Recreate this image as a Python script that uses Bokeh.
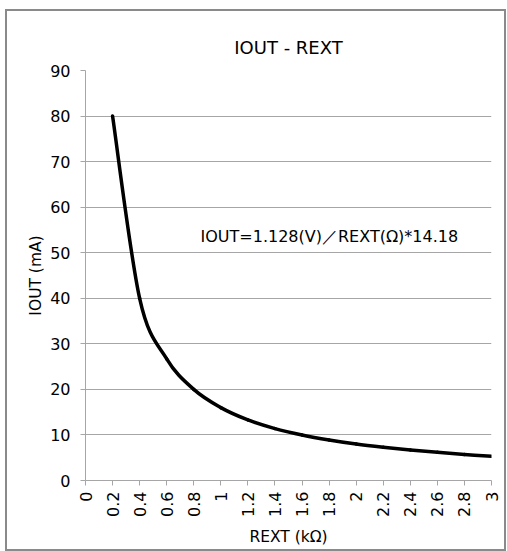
import math
from bokeh.plotting import figure
from bokeh.models import FixedTicker, Label, Title, Range1d
from bokeh.embed import file_html
from bokeh.resources import INLINE

# ---- data ----
rext_kohm = [0.2, 0.4, 0.6, 0.8, 1.0, 1.2, 1.4, 1.6, 1.8, 2.0, 2.2, 2.4, 2.6, 2.8, 3.0]
iout_ma = [80.0, 40.0, 26.7, 20.0, 16.0, 13.3, 11.4, 10.0, 8.9, 8.0, 7.3, 6.7, 6.2, 5.7, 5.3]
x_ticks = [0, 0.2, 0.4, 0.6, 0.8, 1, 1.2, 1.4, 1.6, 1.8, 2, 2.2, 2.4, 2.6, 2.8, 3]
x_tick_labels = ["0", "0.2", "0.4", "0.6", "0.8", "1", "1.2", "1.4", "1.6", "1.8",
                 "2", "2.2", "2.4", "2.6", "2.8", "3"]
y_ticks = [0, 10, 20, 30, 40, 50, 60, 70, 80, 90]

title_text = "IOUT - REXT"
x_label = "REXT (kΩ)"
y_label = "IOUT (mA)"
formula_text = "IOUT=1.128(V)／REXT(Ω)*14.18"

FONT = "DejaVu Sans"
GRID = "#a6a6a6"

p = figure(width=497, height=538, output_backend="svg", toolbar_location=None,
           x_range=Range1d(0, 3), y_range=Range1d(0, 90),
           min_border_left=78, min_border_right=13, min_border_top=59, min_border_bottom=69)
p.margin = (11, 0, 0, 7)
p.styles = {"outline": "2px solid #8a8a8a"}
p.outline_line_color = None
p.background_fill_color = "white"
p.border_fill_color = "white"

t = Title(text=title_text, align="center", text_font=FONT, text_font_size="18px",
          text_font_style="normal", text_color="black", standoff=26)
p.title = t

# axes
p.xaxis.ticker = FixedTicker(ticks=x_ticks)
p.xaxis.major_label_overrides = {tk: lb for tk, lb in zip(x_ticks, x_tick_labels)}
p.xaxis.major_label_orientation = math.pi / 2
p.yaxis.ticker = FixedTicker(ticks=y_ticks)
for ax in (p.xaxis, p.yaxis):
    ax.axis_line_color = GRID
    ax.major_tick_line_color = GRID
    ax.major_tick_out = 5
    ax.major_tick_in = 0
    ax.minor_tick_line_color = None
    ax.major_label_text_font = FONT
    ax.major_label_text_font_size = "16px"
    ax.major_label_text_color = "black"
    ax.axis_label_text_font = FONT
    ax.axis_label_text_font_size = "15.5px"
    ax.axis_label_text_font_style = "normal"
    ax.axis_label_text_color = "black"
p.xaxis.axis_label = x_label
p.yaxis.axis_label = y_label
p.xaxis.major_label_standoff = 6
p.yaxis.major_label_standoff = 10
p.yaxis.axis_label_standoff = 2
p.xaxis.axis_label_standoff = 8

p.xgrid.grid_line_color = None
p.ygrid.grid_line_color = GRID
p.ygrid.grid_line_width = 1

# smoothed curve (Bezier segments through the data points)
n = len(rext_kohm)
x0s, y0s, x1s, y1s, cx0s, cy0s, cx1s, cy1s = [], [], [], [], [], [], [], []
for i in range(n - 1):
    a = max(i - 1, 0)
    d = min(i + 2, n - 1)
    xa, ya = rext_kohm[a], iout_ma[a]
    xb, yb = rext_kohm[i], iout_ma[i]
    xc, yc = rext_kohm[i + 1], iout_ma[i + 1]
    xd, yd = rext_kohm[d], iout_ma[d]
    x0s.append(xb); y0s.append(yb); x1s.append(xc); y1s.append(yc)
    cx0s.append(xb + (xc - xa) / 6); cy0s.append(yb + (yc - ya) / 6)
    cx1s.append(xc - (xd - xb) / 6); cy1s.append(yc - (yd - yb) / 6)
p.bezier(x0=x0s, y0=y0s, x1=x1s, y1=y1s, cx0=cx0s, cy0=cy0s, cx1=cx1s, cy1=cy1s,
         line_color="black", line_width=3.5, line_cap="round")

p.add_layout(Label(x=0.85, y=53.5, text=formula_text, text_font=FONT,
                   text_font_size="16px", text_baseline="middle", text_align="left",
                   text_color="black"))

open("out.html", "w").write(file_html(p, INLINE))
